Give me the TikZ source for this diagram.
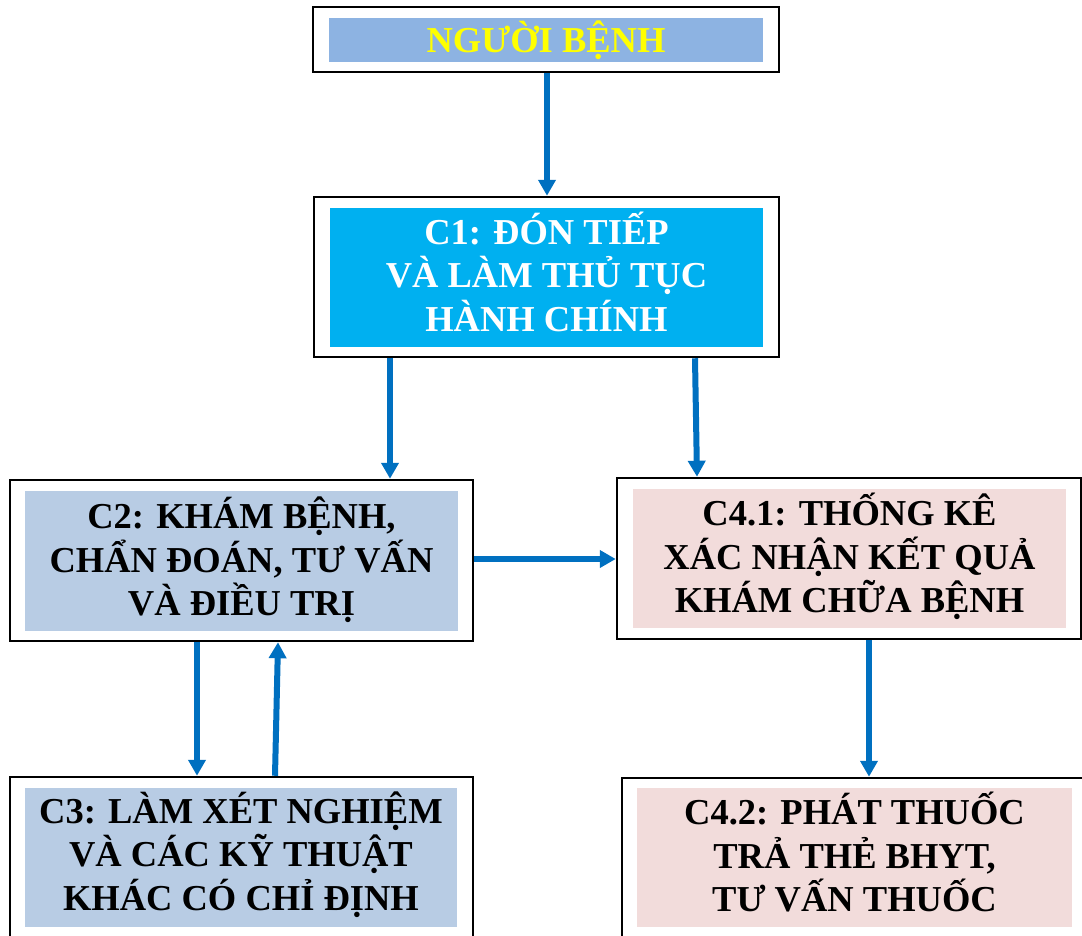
\documentclass[tikz,border=0pt]{standalone}
\usepackage{fontspec}
\setmainfont{Liberation Serif}
\usetikzlibrary{arrows.meta}
\definecolor{flow}{HTML}{0070C0}
\definecolor{topfill}{HTML}{8DB3E2}
\definecolor{cyanfill}{HTML}{00B0F0}
\definecolor{bluefill}{HTML}{B8CCE4}
\definecolor{pinkfill}{HTML}{F2DCDB}
\definecolor{headtext}{HTML}{FFFF00}

\begin{document}
\begin{tikzpicture}[x=1pt,y=-1pt,
  frame/.style={draw=black, line width=2.5pt, fill=white, inner sep=0pt},
  panel/.style={inner sep=0pt},
  caption/.style={inner sep=0pt, align=center,
    font=\bfseries\fontsize{36.5}{43.5}\selectfont},
  link/.style={draw=flow, line width=6pt,
    -{Triangle[width=17pt,length=16pt]}}
]
\clip (0,0) rectangle (1082,935);
\fill[white] (0,0) rectangle (1082,935);

% outer frames
\node[frame, minimum width=466pt, minimum height=65pt]  (top) at (546,39.5) {};
\node[frame, minimum width=465pt, minimum height=160pt] (c1)  at (546.5,277) {};
\node[frame, minimum width=463pt, minimum height=161pt] (c2)  at (241.5,560.5) {};
\node[frame, minimum width=464pt, minimum height=161pt] (c41) at (849,558.5) {};
\node[frame, minimum width=463pt, minimum height=160pt] (c3)  at (241.5,857) {};
\node[frame, minimum width=465pt, minimum height=160pt] (c42) at (854.5,858) {};

% coloured panels
\node[panel, fill=topfill,  minimum width=434pt, minimum height=44pt]  (topp) at (546,40) {};
\node[panel, fill=cyanfill, minimum width=433pt, minimum height=139pt] (c1p)  at (546.5,277.5) {};
\node[panel, fill=bluefill, minimum width=433pt, minimum height=140pt] (c2p)  at (241.5,561) {};
\node[panel, fill=pinkfill, minimum width=433pt, minimum height=139pt] (c41p) at (849.5,558.5) {};
\node[panel, fill=bluefill, minimum width=432pt, minimum height=139pt] (c3p)  at (241,857.5) {};
\node[panel, fill=pinkfill, minimum width=435pt, minimum height=139pt] (c42p) at (854.5,857.5) {};

% captions
\node[caption, text=headtext] (topt) at (topp) {NGƯỜI BỆNH};
\node[caption, text=white] (c1t) at ([yshift=6pt]c1p.center)
  {C1: ĐÓN TIẾP\\VÀ LÀM THỦ TỤC\\HÀNH CHÍNH};
\node[caption] (c2t) at ([yshift=1pt]c2p.center)
  {C2: KHÁM BỆNH,\\CHẨN ĐOÁN, TƯ VẤN\\VÀ ĐIỀU TRỊ};
\node[caption] (c41t) at ([yshift=2pt]c41p.center)
  {C4.1: THỐNG KÊ\\XÁC NHẬN KẾT QUẢ\\KHÁM CHỮA BỆNH};
\node[caption] (c3t) at ([yshift=3pt]c3p.center)
  {C3: LÀM XÉT NGHIỆM\\VÀ CÁC KỸ THUẬT\\KHÁC CÓ CHỈ ĐỊNH};
\node[caption] (c42t) at ([yshift=5pt]c42p.center)
  {C4.2: PHÁT THUỐC\\TRẢ THẺ BHYT,\\TƯ VẤN THUỐC};

% connectors
\draw[link] (top.south -| 547,0) -- (c1.north -| 547,0);
\draw[link] (c1.south -| 390,0) -- (c2.north -| 390,0);
\draw[link] (c1.south -| 695,0) -- (c41.north -| 697,0);
\draw[link] (c2.east |- 0,559) -- (c41.west |- 0,559);
\draw[link] (c2.south -| 197,0) -- (c3.north -| 197,0);
\draw[link] (c3.north -| 275,0) -- (c2.south -| 278,0);
\draw[link] (c41.south -| 869,0) -- (c42.north -| 869,0);
\end{tikzpicture}
\end{document}
